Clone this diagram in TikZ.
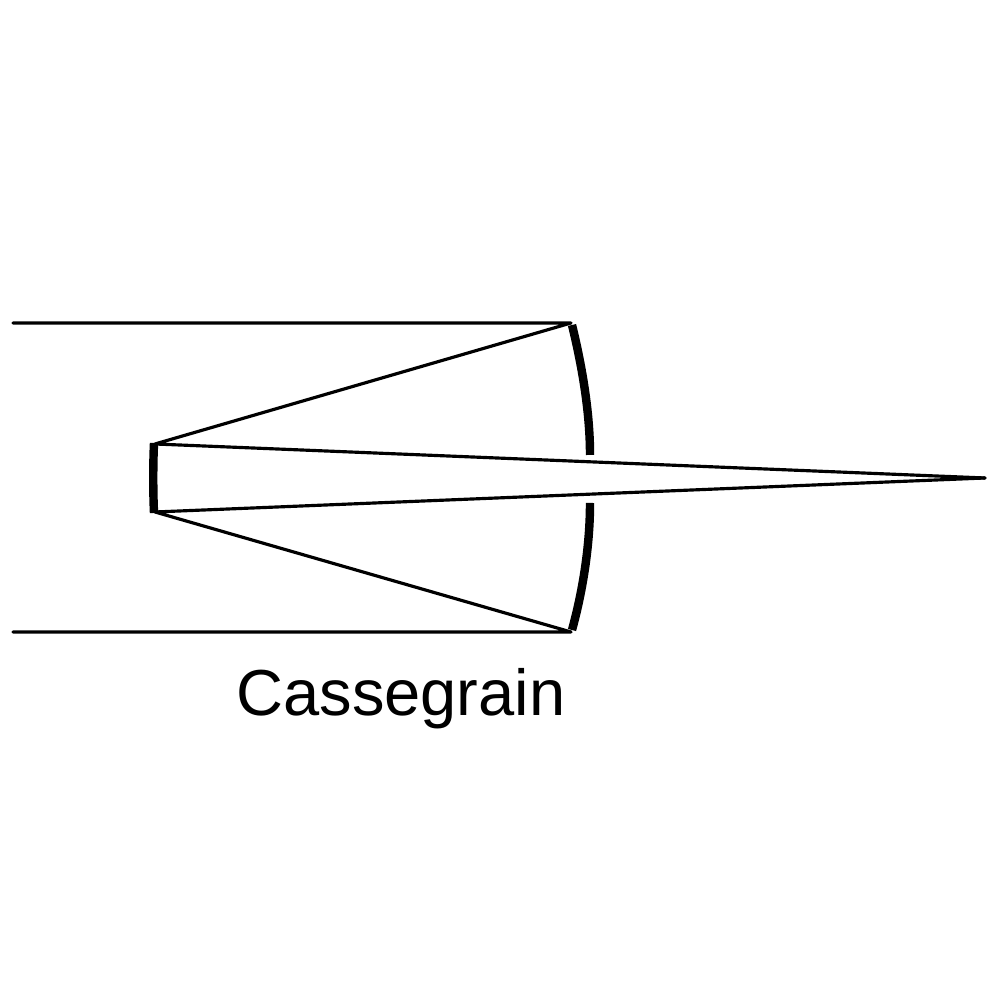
\documentclass[tikz,border=0pt]{standalone}
\usepackage{fontspec}
\setmainfont{Liberation Sans}

\begin{document}
\begin{tikzpicture}[line cap=round,line join=round]
	\tikzstyle{ray}=[line width=0.9pt,draw=black];
	\tikzstyle{mirror}=[line width=2.4pt,draw=black,line cap=butt];

	\useasboundingbox (0,0) rectangle (10,10);

	\coordinate (top in)   at (0.13,6.77);
	\coordinate (bot in)   at (0.13,3.68);
	\coordinate (top edge) at (5.71,6.77);
	\coordinate (bot edge) at (5.71,3.68);
	\coordinate (top sec)  at (1.55,5.56);
	\coordinate (bot sec)  at (1.55,4.88);
	\coordinate (focus)    at (9.85,5.22);

	% primary, with its hole
	\draw[mirror] (5.72,6.75) .. controls (5.83,6.30) and (5.90,5.85) .. (5.90,5.45);
	\draw[mirror] (5.90,4.97) .. controls (5.90,4.55) and (5.83,4.10) .. (5.72,3.70);
	% secondary
	\draw[mirror] (1.54,5.57) .. controls (1.53,5.35) and (1.53,5.09) .. (1.54,4.87);

	\draw[ray] (top in) -- (top edge) -- (top sec) -- (focus);
	\draw[ray] (bot in) -- (bot edge) -- (bot sec) -- (focus);

	\node[anchor=base,font=\fontsize{18.5pt}{22pt}\selectfont,inner sep=0pt] (name) at (4.01,2.84) {Cassegrain};
\end{tikzpicture}
\end{document}
